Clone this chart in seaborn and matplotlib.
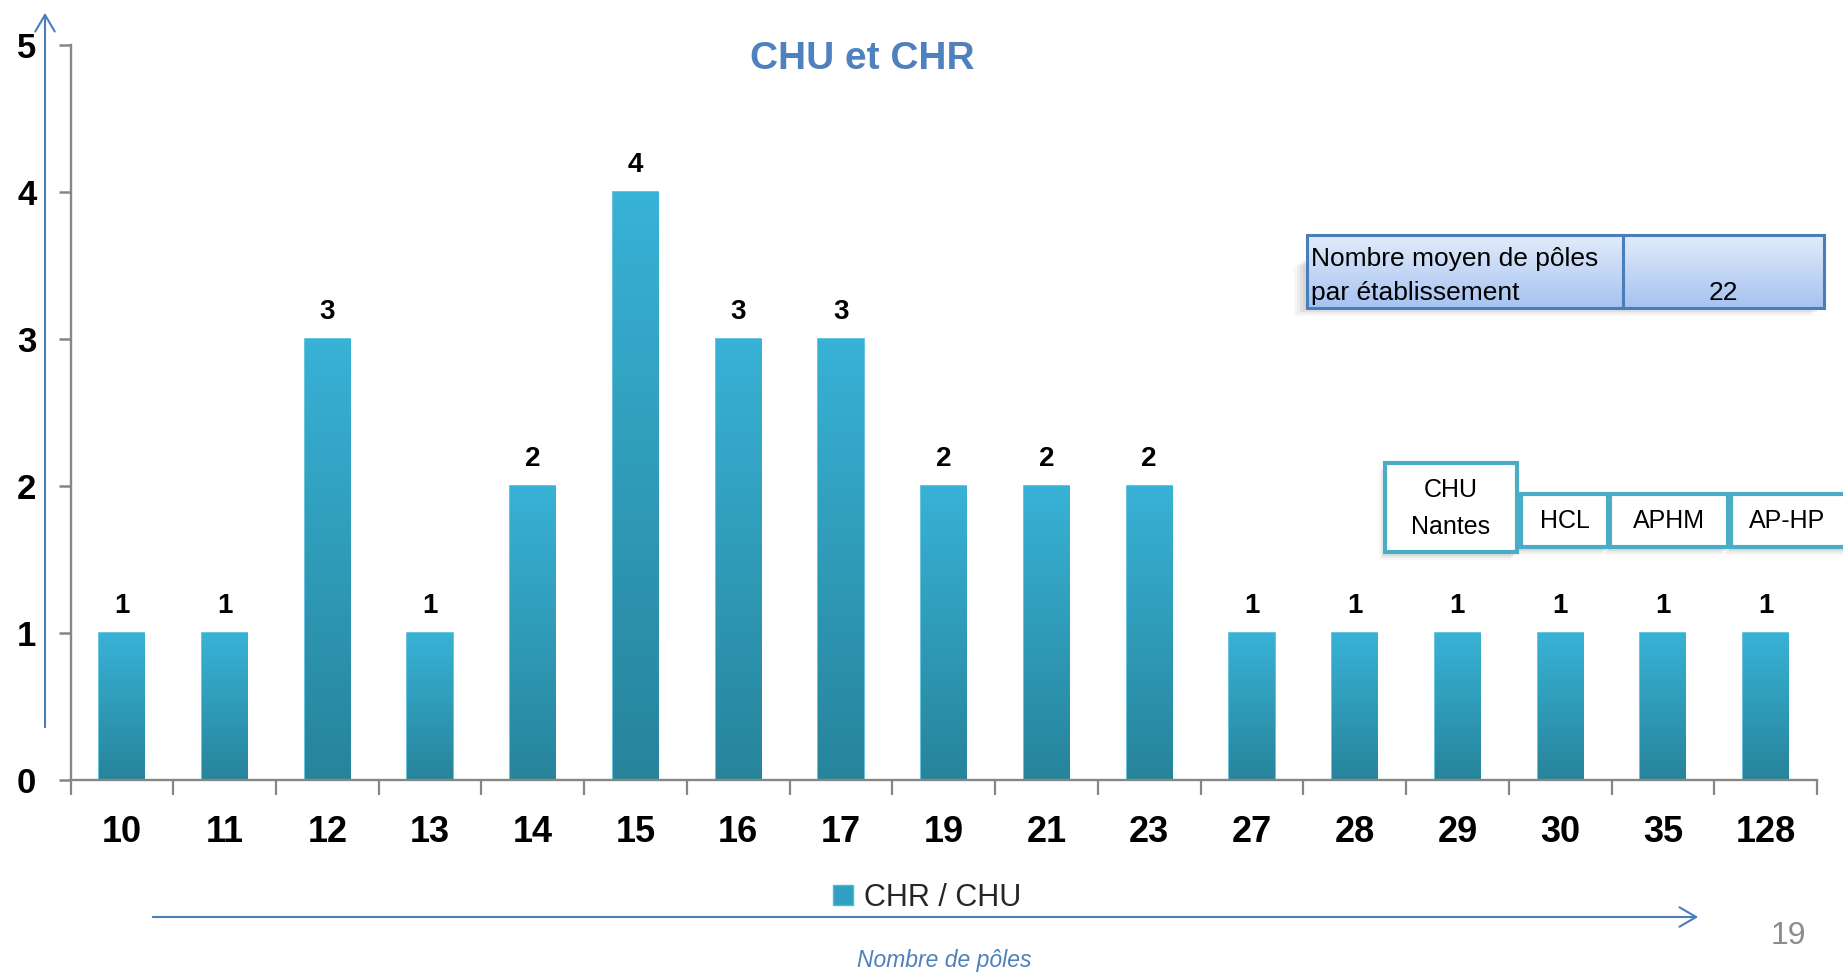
import numpy as np
import matplotlib
matplotlib.use('Agg')
import matplotlib.pyplot as plt
import seaborn as sns
from matplotlib.patches import Rectangle, Patch, FancyArrowPatch, ArrowStyle
from matplotlib.colors import LinearSegmentedColormap

# data
poles = ['10', '11', '12', '13', '14', '15', '16', '17', '19', '21', '23',
         '27', '28', '29', '30', '35', '128']
counts = [1, 1, 3, 1, 2, 4, 3, 3, 2, 2, 2, 1, 1, 1, 1, 1, 1]
series_name = 'CHR / CHU'
mean_label = ['Nombre moyen de pôles', 'par établissement']
mean_value = '22'
big_ones = ['CHU\nNantes', 'HCL', 'APHM', 'AP-HP']

sns.set_theme(style='white')
plt.rcParams['font.family'] = ['Liberation Sans', 'DejaVu Sans']
BLUE = '#4A7EBB'
TEAL = '#4BACC6'
GREY = '#868686'

W, H = 1843, 972
def fx(x): return x / W
def fy(y): return 1 - y / H

fig = plt.figure(figsize=(W / 100, H / 100), dpi=100)
ax = fig.add_axes([fx(70.5), fy(780), (1817 - 70.5) / W, (780 - 45) / H])

sns.barplot(x=poles, y=counts, color='#31A0C0', width=0.44, ax=ax,
            edgecolor='#4DB9D6', linewidth=1.2, zorder=2)

# vertical gradient on each bar
grad = LinearSegmentedColormap.from_list('bar', ['#27849B', '#38B2D6'])
for p in ax.patches:
    x0, y0 = p.get_x(), p.get_y()
    im = ax.imshow(np.linspace(0, 1, 100).reshape(-1, 1), cmap=grad, origin='lower',
                   extent=[x0, x0 + p.get_width(), y0, y0 + p.get_height()],
                   aspect='auto', zorder=2.5)
    im.set_clip_path(p)

ax.bar_label(ax.containers[0], labels=[str(c) for c in counts], padding=10,
             fontsize=20, fontweight='bold', color='black')

ax.set_xlim(-0.5, len(poles) - 0.5)
ax.set_ylim(0, 5)
ax.set_yticks(range(6))
for s in ['top', 'right']:
    ax.spines[s].set_visible(False)
for s in ['left', 'bottom']:
    ax.spines[s].set_color(GREY)
    ax.spines[s].set_linewidth(1.7)
    ax.spines[s].set_zorder(3)

ax.set_xticks(np.arange(-0.5, len(poles), 1), minor=True)
ax.tick_params(axis='x', which='major', length=0, pad=25)
ax.tick_params(axis='x', which='minor', length=10.5, width=1.6, color=GREY, direction='out', bottom=True)
ax.tick_params(axis='y', which='major', length=8.6, width=1.8, color=GREY, direction='out', pad=16, left=True)
for lab in ax.get_xticklabels() + ax.get_yticklabels():
    lab.set_fontweight('bold')
    lab.set_color('black')
for lab in ax.get_xticklabels():
    lab.set_fontsize(26)
for lab in ax.get_yticklabels():
    lab.set_fontsize(25)
ax.set_xlabel('')
ax.set_ylabel('')
ax.grid(False)

# title
fig.text(fx(862), fy(59), 'CHU et CHR', ha='center', va='center', fontsize=28,
         fontweight='bold', color='#4F81BD')

# legend
ax.legend(handles=[Patch(facecolor='#31A0C0', edgecolor='#4DB9D6', label=series_name)],
          loc='center left', bbox_to_anchor=(fx(833), fy(898)), bbox_transform=fig.transFigure,
          frameon=False, fontsize=22, handlelength=0.66, handleheight=0.64,
          handletextpad=0.35, borderpad=0, borderaxespad=0)

# axis arrows
style = ArrowStyle('->', head_length=0.6, head_width=0.35)
fig.add_artist(FancyArrowPatch((fx(45), fy(730)), (fx(45), fy(10)), transform=fig.transFigure,
                               arrowstyle=style, mutation_scale=20, color=BLUE, lw=1.5))
fig.add_artist(FancyArrowPatch((fx(150), fy(917)), (fx(1701), fy(917)), transform=fig.transFigure,
                               arrowstyle=style, mutation_scale=20, color=BLUE, lw=1.5))
fig.text(fx(944), fy(960), 'Nombre de pôles', ha='center', va='center', fontsize=16.5,
         style='italic', color='#4F81BD')
fig.text(fx(1788), fy(936), '19', ha='center', va='center', fontsize=23, color='#8C8C8C')

# table with the mean value
for k, a in enumerate([0.05, 0.05, 0.04, 0.03]):
    fig.add_artist(Rectangle((fx(1307 - 4 - 3 * k), fy(310 + 2 * k)), 517 / W, 50 / H,
                             transform=fig.transFigure, facecolor='black', alpha=a,
                             edgecolor='none', zorder=1))
tab = fig.add_axes([fx(1307), fy(308), 517 / W, 73 / H], zorder=5)
tab_cmap = LinearSegmentedColormap.from_list('tab', ['#A6C3F1', '#E2EBFA'])
tab.imshow(np.linspace(0, 1, 100).reshape(-1, 1), cmap=tab_cmap, origin='lower',
           extent=[0, 1, 0, 1], aspect='auto')
tab.set_xlim(0, 1)
tab.set_ylim(0, 1)
tab.set_axis_off()
tab.add_patch(Rectangle((0, 0), 1, 1, fill=False, edgecolor=BLUE, lw=2.2, clip_on=False))
split = (1623 - 1307) / 517
tab.plot([split, split], [0, 1], color=BLUE, lw=2.2)
tab.text(4 / 517, 0.67, mean_label[0], ha='left', va='center', fontsize=19, color='black')
tab.text(4 / 517, 0.21, mean_label[1], ha='left', va='center', fontsize=19, color='black')
tab.text((split + 1) / 2, 0.21, mean_value, ha='center', va='center', fontsize=19, color='black')

# boxes for the largest establishments
boxes = [(1385, 1517, 463, 552), (1521, 1608, 494, 547), (1610, 1728, 494, 547), (1731, 1850, 494, 547)]
for (x0, x1, y0, y1), name in zip(boxes, big_ones):
    for k, a in enumerate([0.06, 0.05, 0.03]):
        fig.add_artist(Rectangle((fx(x0 - 2 - k * 2), fy(y1 + 4 + 2 * k)), (x1 - x0) / W, (y1 - y0) / H,
                                 transform=fig.transFigure, facecolor='black', alpha=a,
                                 edgecolor='none', zorder=4))
    fig.add_artist(Rectangle((fx(x0), fy(y1)), (x1 - x0) / W, (y1 - y0) / H,
                             transform=fig.transFigure, facecolor='white', edgecolor=TEAL,
                             lw=3, zorder=5))
    fig.text(fx((x0 + min(x1, W)) / 2), fy((y0 + y1) / 2 + 1), name, ha='center', va='center',
             fontsize=18, color='black', linespacing=1.7, zorder=6)

plt.savefig('out.png', dpi=100)
plt.close()
